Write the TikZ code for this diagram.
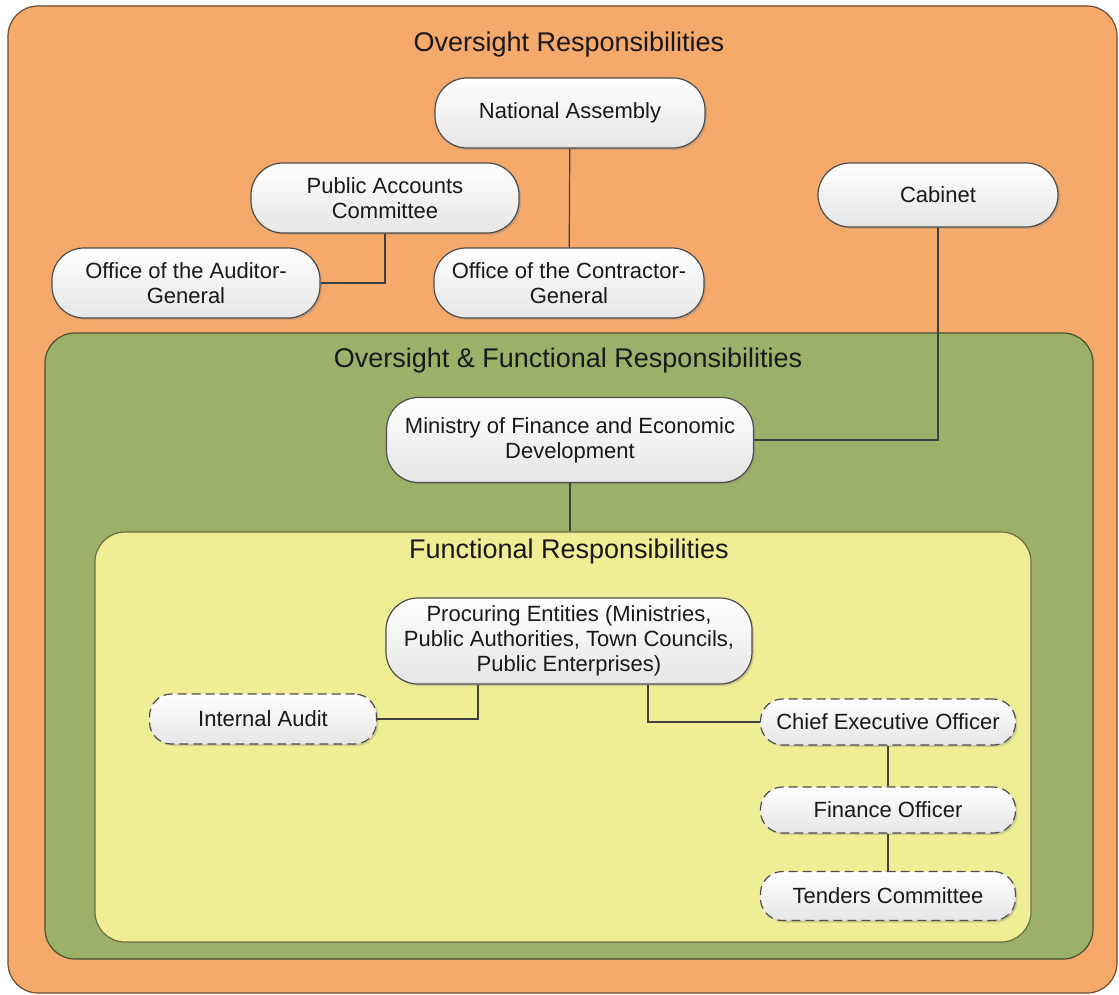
\documentclass[tikz,border=0pt]{standalone}
\usepackage{fontspec}
\setmainfont{Liberation Sans}
\usetikzlibrary{shadows}
\definecolor{orangearea}{RGB}{245,169,107}
\definecolor{greenarea}{RGB}{155,177,106}
\definecolor{yellowarea}{RGB}{240,238,148}

\begin{document}
\begin{tikzpicture}[x=1pt,y=-1pt,
  area/.style={rectangle, rounded corners=30pt, fill=#1, draw=#1!45!black, line width=1.2pt, inner sep=0pt},
  title/.style={anchor=base, font=\fontsize{27}{31}\selectfont, text=black!90},
  box/.style={rectangle, rounded corners=32pt, draw=black!70, line width=1.2pt, top color=white, bottom color=black!10,
    text=black!90, align=center, inner sep=0pt, font=\fontsize{22}{25}\selectfont,
    drop shadow={opacity=0.3, shadow xshift=2pt, shadow yshift=-2pt}},
  dbox/.style={box, rounded corners=22pt, dash pattern=on 9pt off 5pt, minimum width=255pt},
  link/.style={draw=black!75, line width=1.2pt}]

  \useasboundingbox (0,0) rectangle (1119,995);

  \node (outer) [area=orangearea, minimum width=1109pt, minimum height=987pt] at (562.5,499.5) {};
  \node (middle) [area=greenarea, minimum width=1048pt, minimum height=626pt] at (569,646) {};
  \node (inner) [area=yellowarea, minimum width=936pt, minimum height=410pt] at (563,737) {};

  \node (t) [title] at (569,52) {Oversight Responsibilities};
  \node (t0) [title] at (568,367) {Oversight \& Functional Responsibilities};
  \node (t1) [title] at (569,558) {Functional Responsibilities};

  \node (na) [box, minimum width=270pt, minimum height=70pt] at (570,113) {National Assembly};
  \node (pac) [box, minimum width=268pt, minimum height=70pt] at (385,198) {Public Accounts\\Committee};
  \node (oag) [box, minimum width=268pt, minimum height=70pt] at (186,283) {Office of the Auditor-\\General};
  \node (ocg) [box, minimum width=270pt, minimum height=70pt] at (569,283) {Office of the Contractor-\\General};
  \node (cab) [box, minimum width=240pt, minimum height=64pt] at (938,195) {Cabinet};
  \node (mof) [box, minimum width=367pt, minimum height=85pt] at (570,440) {Ministry of Finance and Economic\\Development};
  \node (pe) [box, minimum width=366pt, minimum height=86pt] at (569,641) {Procuring Entities (Ministries,\\Public Authorities, Town Councils,\\Public Enterprises)};
  \node (ia) [dbox, minimum width=227pt, minimum height=50pt] at (263,719) {Internal Audit};
  \node (ceo) [dbox, minimum height=46pt] at (888,722) {Chief Executive Officer};
  \node (fo) [dbox, minimum height=46pt] at (888,810) {Finance Officer};
  \node (tc) [dbox, minimum height=49pt] at (888,896) {Tenders Committee};

  \draw[link] (na) -- (ocg);
  \draw[link] (pac) |- (oag);
  \draw[link] (cab) |- (mof);
  \draw[link] (mof) -- (mof |- inner.north);
  \draw[link] ([xshift=-91pt]pe.south) |- (ia);
  \draw[link] ([xshift=79pt]pe.south) |- (ceo);
  \draw[link] (ceo) -- (fo);
  \draw[link] (fo) -- (tc);

\end{tikzpicture}
\end{document}
